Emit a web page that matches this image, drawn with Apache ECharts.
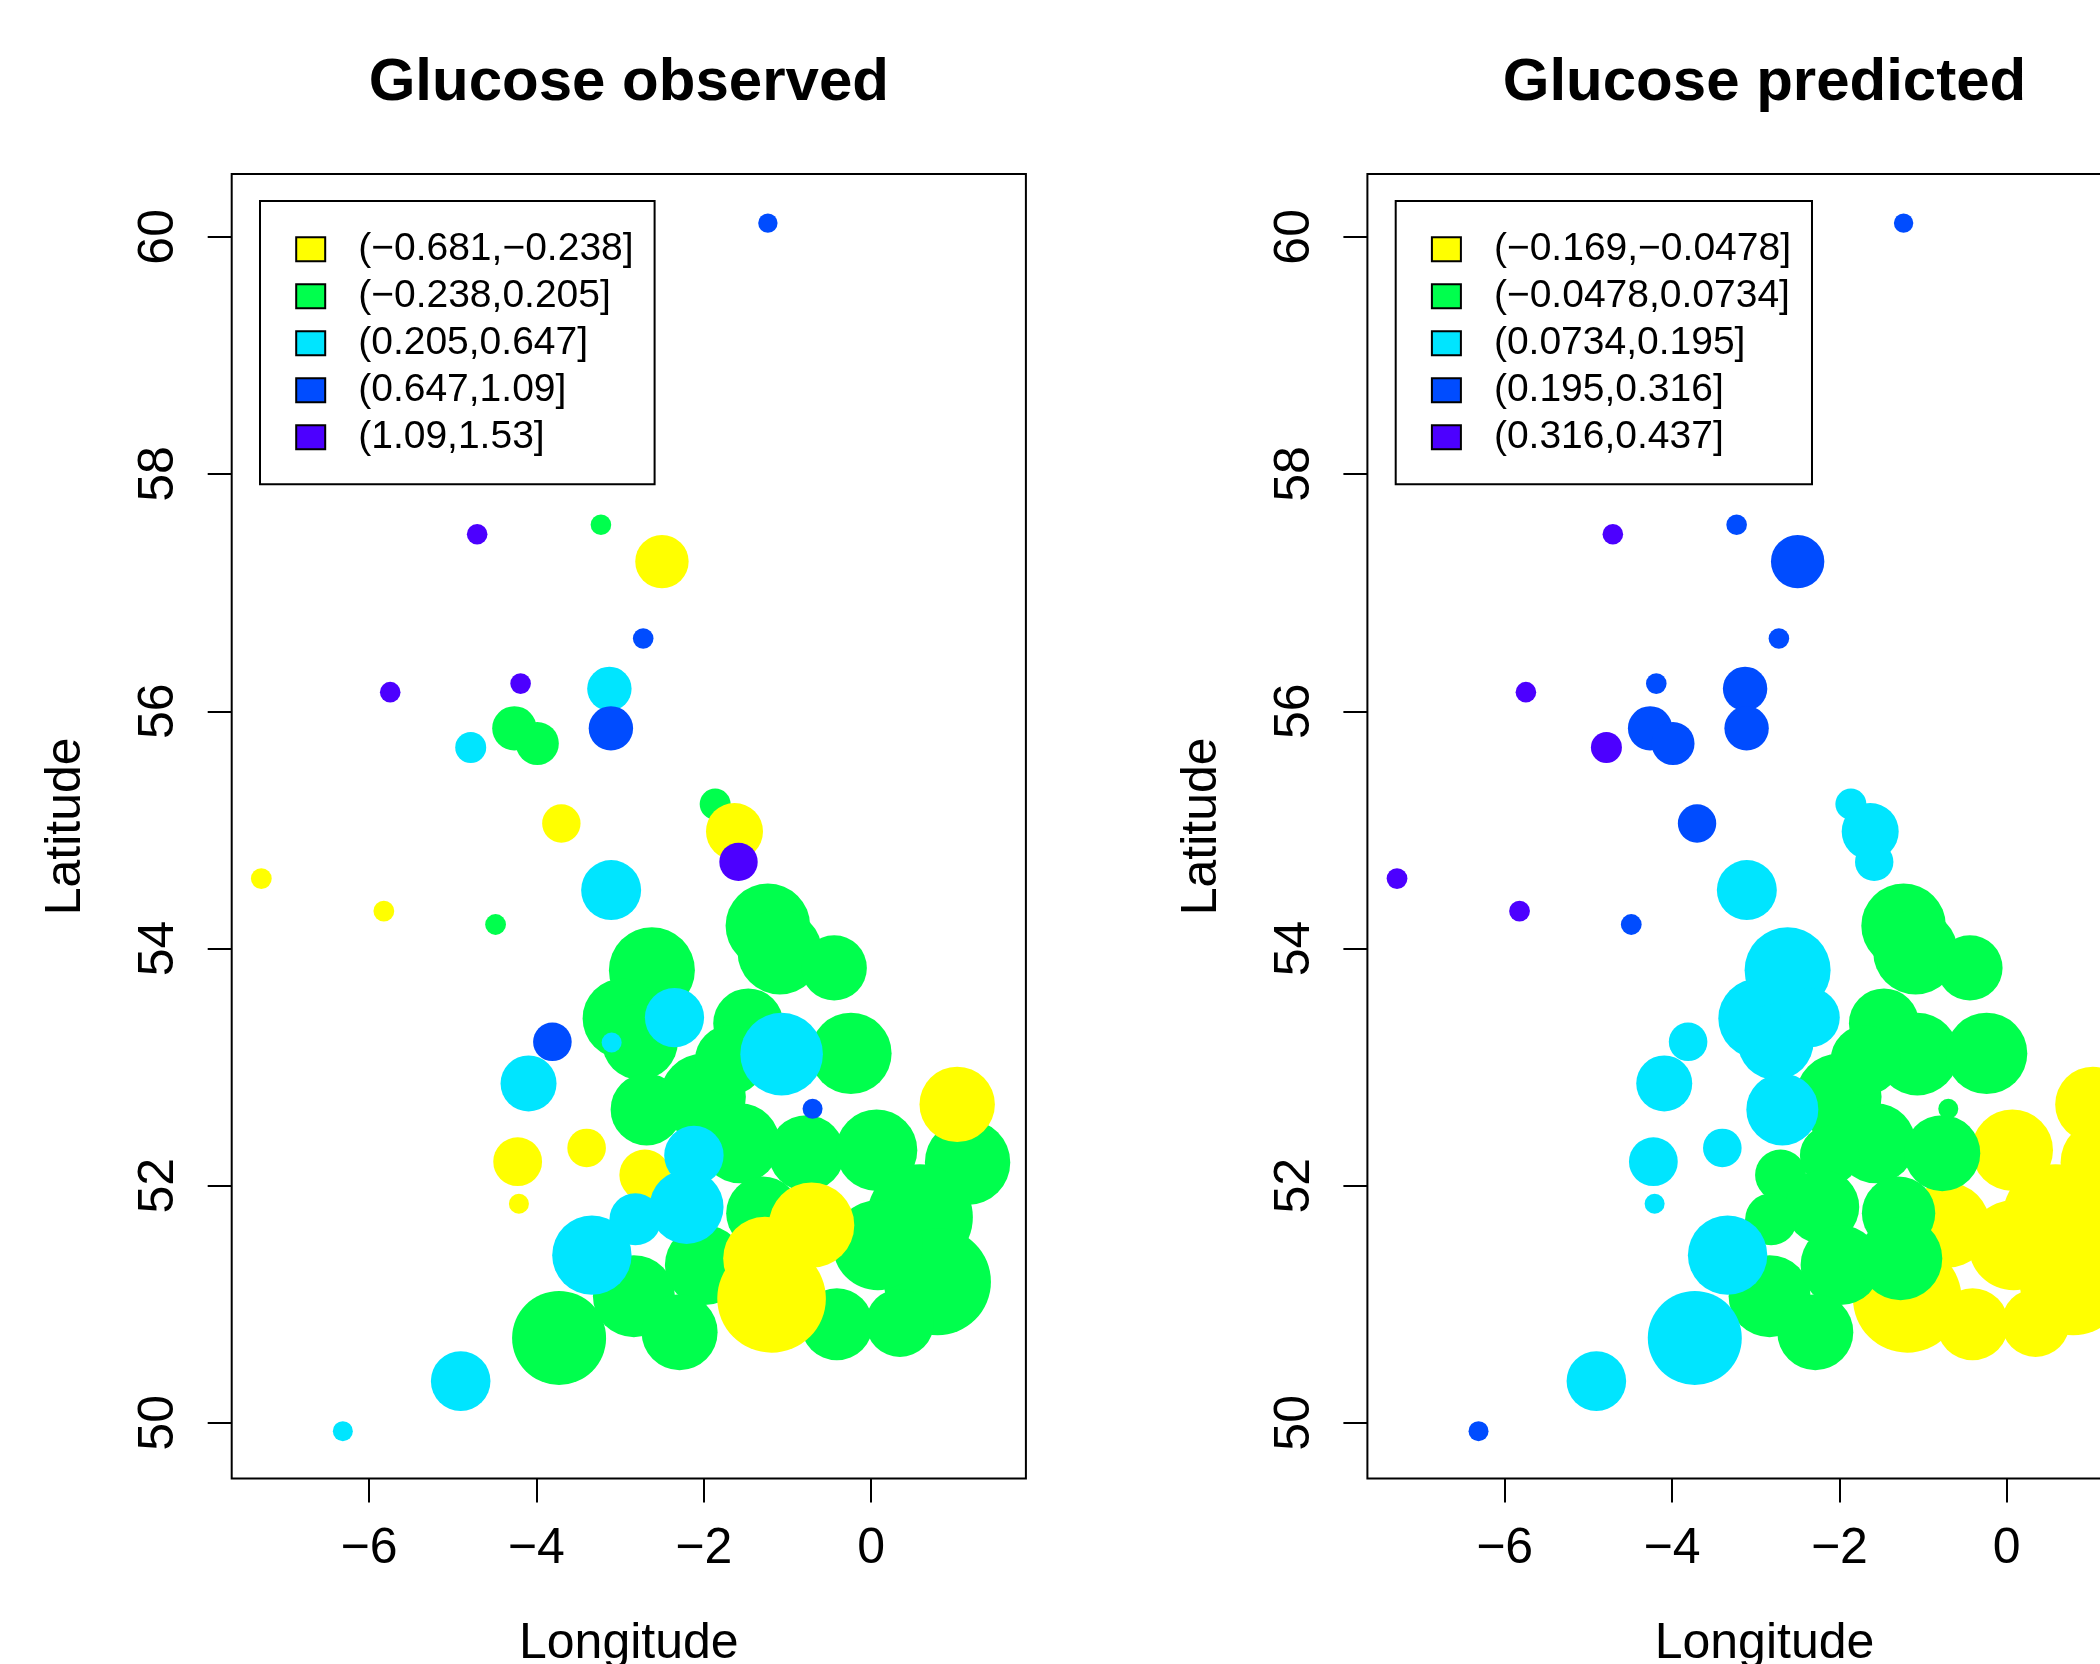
<!DOCTYPE html>
<html>
<head>
<meta charset="utf-8">
<script src="https://cdn.jsdelivr.net/npm/echarts@6/dist/echarts.min.js"></script>
<style>
  html, body { margin: 0; padding: 0; background: #fff; }
  #chart { width: 2100px; height: 1664px; }
</style>
</head>
<body>
<div id="chart"></div>
<script>
// site positions (same sites in both panels)
const lon = [-1.233, -4.707, -3.228, -2.499, -2.723, -5.746, -4.188, -3.127, -3.109, -4.262,
  -3.988, -4.784, -1.863, -1.632, -1.584, -3.701, -7.286, -5.822, -4.487, -3.106,
  -1.233, -1.090, -0.441, -2.619, -2.969, -2.762, -2.349, -3.100, -3.808, -1.468,
  -1.069, -0.241, -4.093, -2.682, -2.010, -1.568, -0.771, -0.699, 0.066, 1.153,
  1.029, 0.583, 0.793, 0.081, -0.409, 0.344, -4.223, -3.399, -4.208, -2.703,
  -2.117, -2.205, -2.816, -2.834, -1.986, -2.288, -3.336, -3.728, -4.904, -6.312,
  -1.293, -0.711, -1.269, -1.189, -1.687];
const lat = [60.116, 57.492, 57.573, 57.262, 56.614, 56.161, 56.233, 56.189, 55.856, 55.856,
  55.728, 55.694, 55.217, 54.986, 54.730, 55.054, 54.589, 54.315, 54.202, 54.492,
  54.191, 53.969, 53.836, 53.817, 53.410, 53.213, 53.417, 53.207, 53.213, 53.368,
  53.109, 53.115, 52.862, 52.643, 52.749, 52.358, 52.274, 52.648, 52.299, 52.196,
  52.685, 51.734, 51.190, 51.498, 50.832, 50.843, 52.202, 52.318, 51.847, 52.089,
  52.255, 51.821, 51.716, 51.068, 51.330, 50.765, 51.414, 50.716, 50.352, 49.930,
  51.768, 51.667, 51.386, 51.049, 53.058];
// relative symbol size of each site
const siteSize = [0.97, 1.03, 1.03, 2.67, 1.03, 1.03, 1.03, 2.22, 2.22, 2.22,
  2.15, 1.55, 1.55, 2.85, 1.92, 1.92, 1.04, 1.04, 1.04, 3.0,
  4.23, 4.23, 3.27, 4.3, 4.0, 3.8, 2.96, 1.0, 1.93, 3.5,
  4.13, 4.07, 2.8, 3.6, 4.3, 4.0, 3.8, 1.0, 4.07, 4.27,
  3.77, 5.3, 5.35, 4.5, 3.6, 3.4, 2.44, 1.93, 1.0, 2.55,
  2.97, 3.7, 2.6, 4.1, 4.0, 3.8, 3.97, 4.7, 2.98, 1.0,
  3.67, 4.27, 4.17, 5.43, 3.5];
// class (0..4) of the observed and predicted value at each site
const obsClass = [3, 4, 1, 0, 3, 4, 4, 2, 3, 1,
  1, 2, 1, 0, 4, 0, 0, 0, 1, 2,
  1, 1, 1, 1, 1, 1, 2, 2, 3, 1,
  2, 1, 2, 1, 1, 1, 1, 3, 1, 1,
  0, 1, 1, 1, 1, 1, 0, 0, 0, 0,
  2, 2, 2, 1, 1, 1, 2, 1, 2, 2,
  1, 0, 0, 0, 1];
const predClass = [3, 4, 3, 3, 3, 4, 3, 3, 3, 3,
  3, 4, 2, 2, 2, 3, 4, 4, 3, 2,
  1, 1, 1, 2, 2, 2, 2, 2, 2, 1,
  1, 1, 2, 2, 1, 1, 1, 1, 0, 0,
  0, 0, 0, 0, 0, 0, 2, 2, 2, 1,
  1, 1, 1, 1, 1, 1, 2, 2, 2, 3,
  1, 0, 1, 0, 1];
const obsLabels = ['(\u22120.681,\u22120.238]', '(\u22120.238,0.205]', '(0.205,0.647]', '(0.647,1.09]', '(1.09,1.53]'];
const predLabels = ['(\u22120.169,\u22120.0478]', '(\u22120.0478,0.0734]', '(0.0734,0.195]', '(0.195,0.316]', '(0.316,0.437]'];
const classColors = ['#FFFF00', '#00FF4D', '#00E5FF', '#004CFF', '#4C00FF'];
const lonTicks = [-6, -4, -2, 0];
const latTicks = [50, 52, 54, 56, 58, 60];

const FONT = '"Liberation Sans", Arial, Helvetica, sans-serif';
const minus = v => String(v).replace('-', '\u2212');

const panels = [
  { title: 'Glucose observed', left: 231.7, cls: obsClass, labels: obsLabels, order: [1, 0, 2, 3, 4] },
  { title: 'Glucose predicted', left: 1367.4, cls: predClass, labels: predLabels, order: [0, 1, 2, 3, 4] }
];
const plotW = 794.2, plotH = 1304.6, plotTop = 174;

const chart = echarts.init(document.getElementById('chart'), null, { renderer: 'canvas' });

const series = [];
panels.forEach((p, gi) => {
  p.order.forEach(c => {
    const pts = [];
    lon.forEach((x, k) => {
      if (p.cls[k] === c) pts.push([x, lat[k], siteSize[k]]);
    });
    series.push({
      type: 'scatter',
      name: p.labels[c],
      xAxisIndex: gi,
      yAxisIndex: gi,
      data: pts,
      symbol: 'circle',
      symbolSize: v => v[2] * 20,
      itemStyle: { color: classColors[c], opacity: 1 },
      emphasis: { disabled: true },
      silent: true
    });
  });
});

const option = {
  animation: false,
  backgroundColor: '#fff',
  title: panels.map(p => ({
    text: p.title,
    left: p.left + plotW / 2 - 5,
    top: 48,
    textAlign: 'center',
    textStyle: { fontFamily: FONT, fontWeight: 'bold', fontSize: 60, color: '#000' }
  })),
  legend: panels.map(p => ({
    orient: 'vertical',
    left: p.left + 28.3,
    top: 201,
    padding: [24.7, 21, 23.5, 35.2],
    itemWidth: 29,
    itemHeight: 24,
    itemGap: 0,
    icon: 'rect',
    borderColor: '#000',
    borderWidth: 2,
    itemStyle: { borderColor: '#000', borderWidth: 2 },
    textStyle: { fontFamily: FONT, fontSize: 39, lineHeight: 41, color: '#000', padding: [6, 0, 0, 28] },
    selectedMode: false,
    data: p.labels.slice()
  })),
  grid: panels.map(p => ({
    left: p.left,
    top: plotTop,
    width: plotW,
    height: plotH,
    show: true,
    borderColor: '#000',
    borderWidth: 2,
    containLabel: false,
    outerBoundsMode: 'none'
  })),
  xAxis: panels.map((p, gi) => ({
    gridIndex: gi,
    type: 'value',
    min: -7.64,
    max: 1.85,
    splitLine: { show: false },
    axisLine: { show: false, onZero: false },
    axisTick: { show: true, length: 24, lineStyle: { color: '#000', width: 2 }, customValues: lonTicks },
    axisLabel: { customValues: lonTicks, margin: 46, fontSize: 50, fontFamily: FONT, color: '#000', formatter: minus },
    name: 'Longitude',
    nameLocation: 'middle',
    nameGap: 141,
    nameTextStyle: { fontSize: 50, fontFamily: FONT, color: '#000' }
  })),
  yAxis: panels.map((p, gi) => ({
    gridIndex: gi,
    type: 'value',
    min: 49.53,
    max: 60.53,
    splitLine: { show: false },
    axisLine: { show: false, onZero: false },
    axisTick: { show: true, length: 24, lineStyle: { color: '#000', width: 2 }, customValues: latTicks },
    axisLabel: { customValues: latTicks, rotate: 90, margin: 47, fontSize: 50, fontFamily: FONT, color: '#000' },
    name: 'Latitude',
    nameLocation: 'middle',
    nameGap: 140,
    nameTextStyle: { fontSize: 50, fontFamily: FONT, color: '#000' }
  })),
  series: series
};

chart.setOption(option);
</script>
</body>
</html>
